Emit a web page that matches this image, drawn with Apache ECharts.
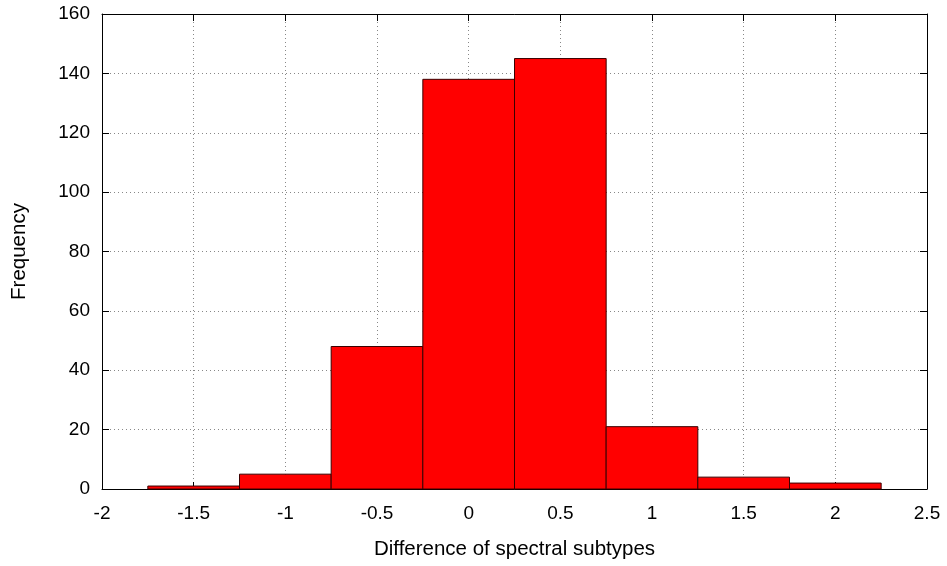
<!DOCTYPE html>
<html>
<head>
<meta charset="utf-8">
<script src="https://cdn.jsdelivr.net/npm/echarts@6/dist/echarts.min.js"></script>
<style>
  html, body { margin: 0; padding: 0; background: #fff; }
  #chart { width: 947px; height: 566px; }
</style>
</head>
<body>
<div id="chart"></div>
<script>
// Histogram bins: centre of each bin and its count
const binCenters = [-1.5, -1, -0.5, 0, 0.5, 1, 1.5, 2];
const binCounts = [1, 5, 48, 138, 145, 21, 4, 2];
const binWidth = 0.5;

const chart = echarts.init(document.getElementById('chart'));
const font = 'Liberation Sans, Arial, sans-serif';
const dotted = { color: '#888', width: 1, type: [1, 3] };

const data = binCenters.map((c, i) => [c - binWidth / 2, c + binWidth / 2, binCounts[i]]);

function axisBase(extra) {
  return Object.assign({
    axisLine: { show: true, onZero: false, lineStyle: { color: '#000', width: 1 } },
    axisTick: { show: true, inside: true, length: 7, lineStyle: { color: '#000' } },
    splitLine: { show: false }
  }, extra);
}

chart.setOption({
  animation: false,
  grid: { left: 102, right: 20, top: 14, bottom: 77 },
  xAxis: [
    axisBase({
      type: 'value', min: -2, max: 2.5, interval: 0.5, position: 'bottom',
      name: 'Difference of spectral subtypes', nameLocation: 'middle', nameGap: 50,
      nameTextStyle: { fontFamily: font, fontSize: 20.5, color: '#000' },
      axisLabel: { fontFamily: font, fontSize: 19, color: '#000', margin: 15 },
      splitLine: { show: true, lineStyle: dotted }
    }),
    axisBase({
      type: 'value', min: -2, max: 2.5, interval: 0.5, position: 'top',
      axisLabel: { show: false }
    })
  ],
  yAxis: [
    axisBase({
      type: 'value', min: 0, max: 160, interval: 20, position: 'left',
      name: 'Frequency', nameLocation: 'middle', nameGap: 72,
      nameTextStyle: { fontFamily: font, fontSize: 20.5, color: '#000' },
      axisLabel: { fontFamily: font, fontSize: 19, color: '#000', margin: 12 },
      splitLine: { show: true, lineStyle: dotted }
    }),
    axisBase({
      type: 'value', min: 0, max: 160, interval: 20, position: 'right',
      axisLabel: { show: false }
    })
  ],
  series: [{
    type: 'custom',
    xAxisIndex: 0, yAxisIndex: 0,
    data: data,
    encode: { x: [0, 1], y: 2 },
    renderItem: function (params, api) {
      const p0 = api.coord([api.value(0), api.value(2)]);
      const p1 = api.coord([api.value(1), 0]);
      return {
        type: 'rect',
        shape: { x: p0[0], y: p0[1], width: p1[0] - p0[0], height: p1[1] - p0[1] },
        style: { fill: '#ff0000', stroke: '#3a0000', lineWidth: 1 }
      };
    }
  }]
});
</script>
</body>
</html>
